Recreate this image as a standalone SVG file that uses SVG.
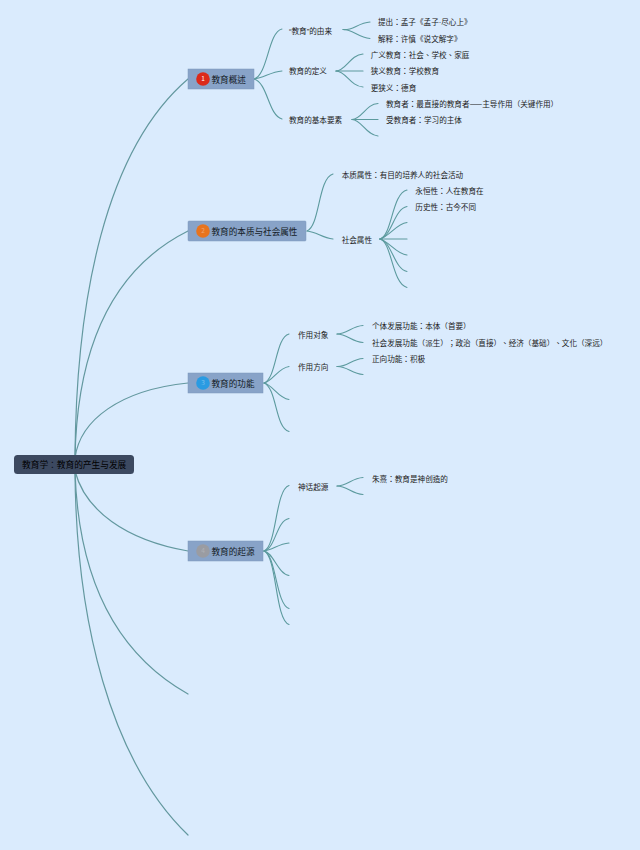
<svg xmlns="http://www.w3.org/2000/svg" width="640" height="850" viewBox="0 0 640 850">
<style>
text{font-family:"Noto Sans CJK TC","Noto Sans CJK SC",sans-serif;fill:#222;font-kerning:none;text-spacing-trim:space-all}
.l{font-size:7.6px}
.b{font-size:8.6px;fill:#141b26}
.r{font-size:8.7px;fill:#000}
.d{font-size:6.5px;fill:#fff;text-anchor:middle}
.n{font-family:"Liberation Sans",sans-serif}
.box{fill:#88a3c8;stroke:#7c98bd;stroke-width:.5}
#connectors path{fill:none;stroke:#5c9a9e;stroke-width:1.1;stroke-linecap:round}
#connectors .m{stroke-width:1.2;stroke:#63989f}
</style>
<rect width="640" height="850" fill="#daebfd"/>
<g id="connectors">
<path class="m" d="M75 458C76 300 105 150 188 79"/>
<path class="m" d="M75 458C77 350 110 270 188 231"/>
<path class="m" d="M75 458C80 420 120 390 188 383"/>
<path class="m" d="M75 471C85 510 125 540 188 551"/>
<path class="m" d="M75 471C78 570 110 650 188 694"/>
<path class="m" d="M75 471C76 620 110 760 188 835"/>
<path d="M254 79C268 75 268 32 282 29"/>
<path d="M254 79C264 78 270 72 282 71"/>
<path d="M254 79C268 83 268 115 282 119"/>
<path d="M343 29.500C352 31 358 23 370 22"/>
<path d="M343 29.500C352 29 358 37 370 38.500"/>
<path d="M336 71C346 71 350 55 363 54"/>
<path d="M336 71H363"/>
<path d="M336 71C346 71 350 86 363 87"/>
<path d="M352 119.500C362 119 366 104 378 103.500"/>
<path d="M352 119.500H378"/>
<path d="M352 119.500C362 120 366 135 378 136"/>
<path d="M307 231C320 226 318 178 333 174"/>
<path d="M307 231C317 232 322 238 333 239"/>
<path d="M380 239C392 236 392 193 407 190"/>
<path d="M380 239C392 236 394 209 407 206.500"/>
<path d="M380 239C390 236 396 224 407 222.500"/>
<path d="M380 239H407"/>
<path d="M380 239C390 242 396 254 407 255"/>
<path d="M380 239C392 242 394 269 407 271.500"/>
<path d="M380 239C392 242 392 284 407 287.500"/>
<path d="M264 383C277 378 275 338 289 334"/>
<path d="M264 383C273 381 278 368 289 366.500"/>
<path d="M264 383C273 385 278 398 289 399.500"/>
<path d="M264 383C277 388 275 428 289 431.500"/>
<path d="M337 334C347 334 352 326 363 325.500"/>
<path d="M337 334C347 334 352 342 363 342.500"/>
<path d="M337 366.500C347 367 352 359 363 358.500"/>
<path d="M337 366.500C347 366 352 374 363 374.500"/>
<path d="M264 551C277 546 275 490 289 485.500"/>
<path d="M264 551C276 548 276 521 289 518.500"/>
<path d="M264 551C273 550 278 544 289 543"/>
<path d="M264 551C273 552 278 574 289 575.500"/>
<path d="M264 551C276 554 276 605 289 608.500"/>
<path d="M264 551C277 556 275 620 289 624.500"/>
<path d="M337 486C347 486 352 478 363 477.500"/>
<path d="M337 486C347 486 352 494 363 494.500"/>
</g>
<g id="root"><rect x="14" y="455" width="120" height="19" rx="3.500" fill="#3c4960"/><text class="r" x="22" y="468">教育学：教育的产生与发展</text></g>
<g id="n1"><rect class="box" x="188" y="69" width="66" height="20"/><circle cx="203" cy="79" r="6.800" fill="#dc2a1a"/><text class="d" x="203" y="81.300">1</text><text class="b" x="211.500" y="82.500">教育概述</text></g>
<g id="n2"><rect class="box" x="188" y="221" width="118" height="20" rx="1"/><circle cx="203" cy="231" r="6.800" fill="#e8741e"/><text class="d" x="203" y="233.300" opacity=".35">2</text><text class="b" x="211.500" y="234.500">教育的本质与社会属性</text></g>
<g id="n3"><rect class="box" x="188" y="373" width="75" height="20"/><circle cx="203" cy="383" r="6.800" fill="#2a9be2"/><text class="d" x="203" y="385.300" opacity=".35">3</text><text class="b" x="211.500" y="386.500">教育的功能</text></g>
<g id="n4"><rect class="box" x="188" y="541" width="75" height="20"/><circle cx="203" cy="551" r="6.800" fill="#9a9ca2"/><text class="d" x="203" y="553.300" opacity=".2">4</text><text class="b" x="211.500" y="555">教育的起源</text></g>
<g id="t1"><text class="l" x="289" y="33.500"><tspan class="n">“</tspan>教育<tspan class="n">”</tspan>的由来</text></g>
<g id="t1a"><text class="l" x="378" y="25">提出：孟子《孟子<tspan class="n">·</tspan>尽心上》</text></g>
<g id="t1b"><text class="l" x="378" y="41.500">解释：许慎《说文解字》</text></g>
<g id="t2"><text class="l" x="289" y="74">教育的定义</text></g>
<g id="t2a"><text class="l" x="370.700" y="58">广义教育：社会、学校、家庭</text></g>
<g id="t2b"><text class="l" x="370.700" y="74">狭义教育：学校教育</text></g>
<g id="t2c"><text class="l" x="370.700" y="90.500">更狭义：德育</text></g>
<g id="t3"><text class="l" x="289" y="122.500">教育的基本要素</text></g>
<g id="t3a"><text class="l" x="386" y="106.500">教育者：最直接的教育者——主导作用（关键作用）</text></g>
<g id="t3b"><text class="l" x="386" y="123">受教育者：学习的主体</text></g>
<g id="t4"><text class="l" x="341.700" y="177.500">本质属性：有目的培养人的社会活动</text></g>
<g id="t5"><text class="l" x="341.700" y="242.500">社会属性</text></g>
<g id="t5a"><text class="l" x="415.300" y="193.500">永恒性：人在教育在</text></g>
<g id="t5b"><text class="l" x="415.300" y="210">历史性：古今不同</text></g>
<g id="t6"><text class="l" x="298" y="337.500">作用对象</text></g>
<g id="t6a"><text class="l" x="372" y="329">个体发展功能：本体（首要）</text></g>
<g id="t6b"><text class="l" x="372" y="345.500">社会发展功能（派生）；政治（直接）、经济（基础）、文化（深远）</text></g>
<g id="t7"><text class="l" x="298" y="370">作用方向</text></g>
<g id="t7a"><text class="l" x="372" y="362">正向功能：积极</text></g>
<g id="t8"><text class="l" x="298" y="489.500">神话起源</text></g>
<g id="t8a"><text class="l" x="372" y="481.500">朱熹：教育是神创造的</text></g>
</svg>
